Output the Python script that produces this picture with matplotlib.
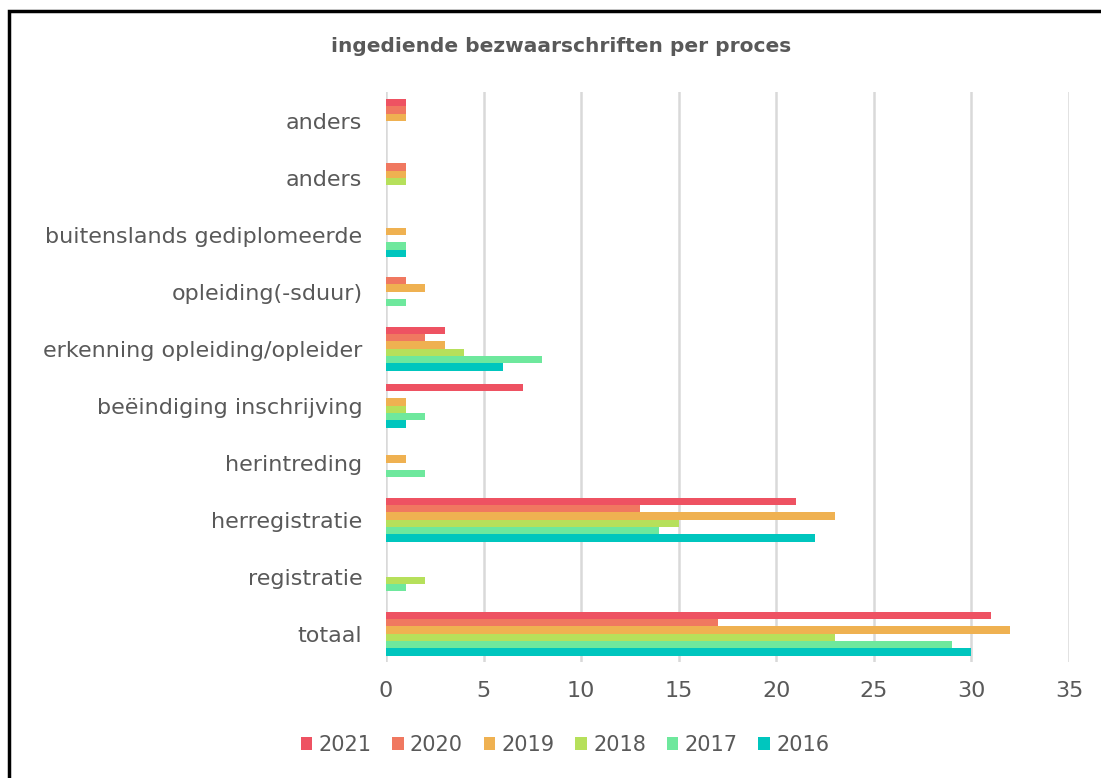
import matplotlib.pyplot as plt
from matplotlib.patches import Rectangle, Patch

# categories top to bottom, values per year in the same order
categories = ['anders', 'anders', 'buitenslands gediplomeerde', 'opleiding(-sduur)',
              'erkenning opleiding/opleider', 'beëindiging inschrijving', 'herintreding',
              'herregistratie', 'registratie', 'totaal']
years = ['2021', '2020', '2019', '2018', '2017', '2016']
v2021 = [1, 0, 0, 0, 3, 7, 0, 21, 0, 31]
v2020 = [1, 1, 0, 1, 2, 0, 0, 13, 0, 17]
v2019 = [1, 1, 1, 2, 3, 1, 1, 23, 0, 32]
v2018 = [0, 1, 0, 0, 4, 1, 0, 15, 2, 23]
v2017 = [0, 0, 1, 1, 8, 2, 2, 14, 1, 29]
v2016 = [0, 0, 1, 0, 6, 1, 0, 22, 0, 30]
series = [v2021, v2020, v2019, v2018, v2017, v2016]
colors = ['#EE5262', '#F07860', '#EFB151', '#B6E05B', '#6EE89D', '#00C6BE']

TXT = '#595959'
plt.rcParams['font.family'] = ['DejaVu Sans']

fig = plt.figure(figsize=(11.01, 7.78), dpi=100)
ax = fig.add_axes([386 / 1101, 1 - 662 / 778, (1069 - 386) / 1101, (662 - 92.5) / 778])

h = 0.1287
for j, (vals, c) in enumerate(zip(series, colors)):
    ypos = [i + (j - 2.5) * h for i in range(len(categories))]
    ax.barh(ypos, vals, height=h, color=c, linewidth=0, zorder=3)

ax.set_xlim(0, 35)
ax.set_ylim(len(categories) - 0.5, -0.5)
ax.set_xticks(range(0, 36, 5))
ax.set_yticks(range(len(categories)))
ax.set_yticklabels(categories)
ax.grid(axis='x', color='#D9D9D9', linewidth=1.8, zorder=0)
for s in ax.spines.values():
    s.set_visible(False)
ax.tick_params(axis='y', length=0, pad=17, labelsize=16, labelcolor=TXT)
ax.tick_params(axis='x', length=0, pad=14, labelsize=16, labelcolor=TXT)

fig.text(561 / 1101, 1 - 47 / 778, 'ingediende bezwaarschriften per proces',
         ha='center', va='center', fontsize=14.5, fontweight='bold', color=TXT)

handles = [Patch(facecolor=c, label=y) for y, c in zip(years, colors)]
fig.legend(handles=handles, loc='center', bbox_to_anchor=(565 / 1101, 1 - 745 / 778),
           ncol=6, frameon=False, fontsize=15, labelcolor=TXT,
           handlelength=0.55, handleheight=0.55, handletextpad=0.3, columnspacing=1.0)

fig.add_artist(Rectangle((9 / 1101, -0.1), 1.2, 1.1 - 11.5 / 778, fill=False,
                         edgecolor='black', linewidth=2.5, transform=fig.transFigure))

fig.savefig('out.png', dpi=100, facecolor='white')
